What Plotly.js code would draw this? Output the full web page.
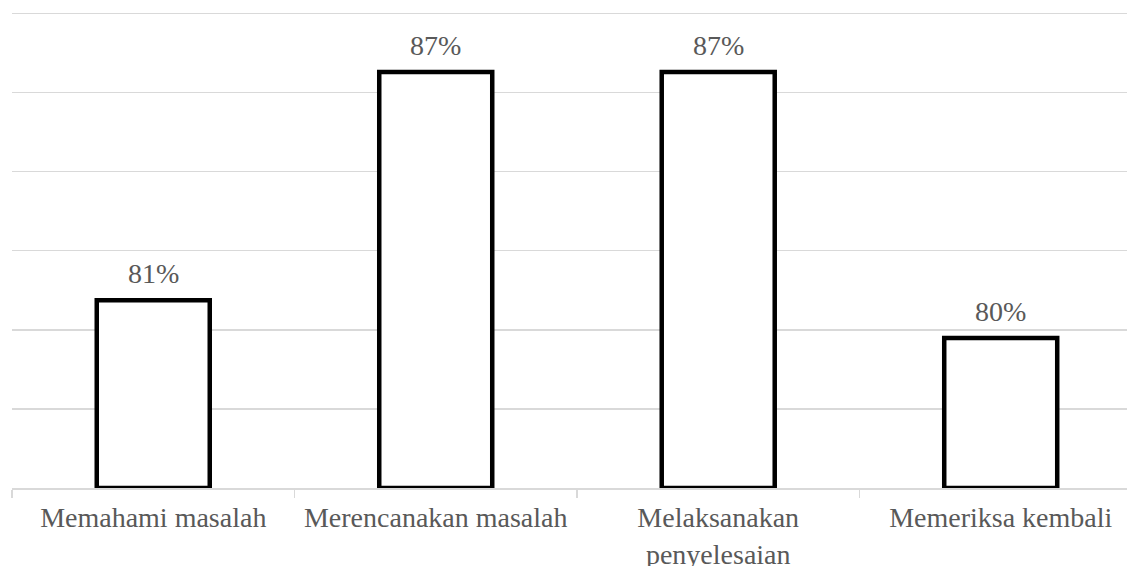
<!DOCTYPE html>
<html>
<head>
<meta charset="utf-8">
<script src="https://cdn.plot.ly/plotly-3.0.1.min.js"></script>
<style>
  html, body { margin: 0; padding: 0; background: #ffffff; overflow: hidden; }
  #chart { width: 1127px; height: 566px; }
</style>
</head>
<body>
<div id="chart"></div>
<script>
// Data
const categories = ["Memahami masalah", "Merencanakan masalah", "Melaksanakan<br>penyelesaian", "Memeriksa kembali"];
const values = [80.75, 86.52, 86.52, 79.79];   // percent
const axisMin = 76;
const axisMax = 88;
const gridStep = 2;

const FONT = 'Liberation Serif, Times New Roman, serif';
const GREY = '#d9d9d9';
const TEXT = '#595959';

const trace = {
  type: 'bar',
  x: categories,
  y: values.map(v => v - axisMin),
  base: axisMin,
  width: 0.4,
  marker: { color: '#ffffff', line: { color: '#000000', width: 4.5 } },
  hoverinfo: 'skip'
};

const annotations = categories.map((c, i) => ({
  x: c, y: values[i],
  xref: 'x', yref: 'y',
  text: Math.round(values[i]) + '%',
  showarrow: false,
  yanchor: 'bottom',
  yshift: 9,
  font: { family: FONT, size: 28, color: TEXT }
}));

const layout = {
  width: 1127, height: 566,
  margin: { l: 12, r: 0, t: 11, b: 78 },
  paper_bgcolor: '#ffffff', plot_bgcolor: '#ffffff',
  showlegend: false,
  font: { family: FONT, color: TEXT },
  xaxis: {
    type: 'category',
    range: [-0.5, 3.447],
    showline: true, linecolor: GREY, linewidth: 1.5,
    ticks: 'outside', tickson: 'boundaries', ticklen: 8, tickcolor: GREY, tickwidth: 1.5,
    ticklabelstandoff: 4,
    showgrid: false, zeroline: false,
    tickfont: { family: FONT, size: 28, color: TEXT },
    fixedrange: true
  },
  yaxis: {
    range: [axisMin, axisMax + 0.06],
    dtick: gridStep, tick0: axisMin,
    showticklabels: false,
    showgrid: true, gridcolor: GREY, gridwidth: 1.5,
    zeroline: false, showline: false, ticks: '',
    fixedrange: true
  },
  annotations: annotations
};

Plotly.newPlot('chart', [trace], layout, { displayModeBar: false, staticPlot: true });
</script>
</body>
</html>
